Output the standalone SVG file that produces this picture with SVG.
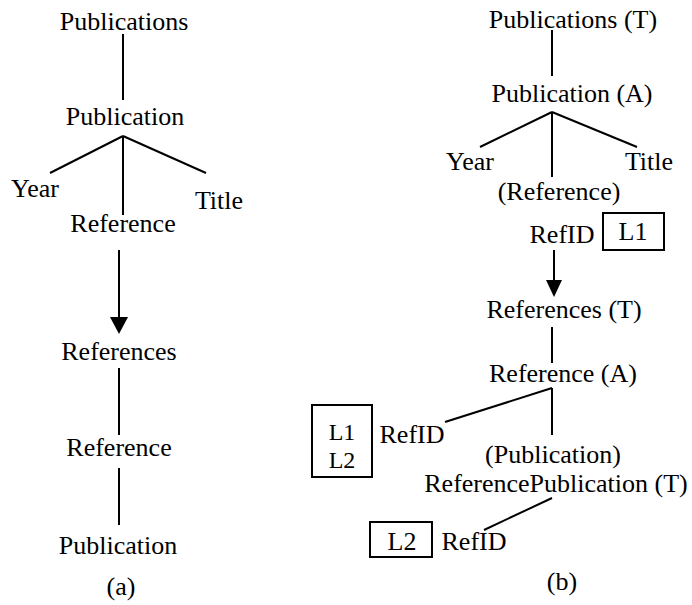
<svg xmlns="http://www.w3.org/2000/svg" width="692" height="605" viewBox="0 0 692 605">
  <style>
    text { font-family: "Times New Roman", "Liberation Serif", Times, "Nimbus Roman", "DejaVu Serif", serif; font-size: 26px; fill: #000; text-anchor: middle; }
    .edge { stroke: #000; stroke-width: 2; fill: none; }
    .box { stroke: #000; stroke-width: 2; fill: none; }
    .head { fill: #000; }
    .small { font-size: 24px; }
  </style>
  <rect width="692" height="605" fill="#fff"/>

  <!-- connectors -->
  <g id="connectors">
    <!-- (a) -->
    <line class="edge" x1="123" y1="34" x2="123" y2="100"/>
    <line class="edge" x1="123" y1="136" x2="50" y2="173"/>
    <line class="edge" x1="123" y1="136" x2="206" y2="173"/>
    <line class="edge" x1="123" y1="136" x2="123" y2="215"/>
    <line class="edge" x1="119" y1="250" x2="119" y2="320"/>
    <polygon class="head" points="110,317 128,317 119,334"/>
    <line class="edge" x1="119" y1="368" x2="119" y2="435"/>
    <line class="edge" x1="119" y1="468" x2="119" y2="525"/>
    <!-- (b) -->
    <line class="edge" x1="552" y1="30" x2="552" y2="76"/>
    <line class="edge" x1="552" y1="112" x2="480" y2="147"/>
    <line class="edge" x1="552" y1="112" x2="637" y2="147"/>
    <line class="edge" x1="552" y1="112" x2="552" y2="177"/>
    <line class="edge" x1="554" y1="250" x2="554" y2="283"/>
    <polygon class="head" points="546,280 562,280 554,297"/>
    <line class="edge" x1="552" y1="327" x2="552" y2="363"/>
    <line class="edge" x1="552" y1="388" x2="445" y2="422"/>
    <line class="edge" x1="552" y1="388" x2="552" y2="435"/>
    <line class="edge" x1="552" y1="498" x2="484" y2="530"/>
  </g>

  <!-- (a) nodes -->
  <g id="a-publications"><text x="124" y="30">Publications</text></g>
  <g id="a-publication"><text x="125" y="125">Publication</text></g>
  <g id="a-year"><text x="35" y="197">Year</text></g>
  <g id="a-title"><text x="219" y="209">Title</text></g>
  <g id="a-reference"><text x="123" y="232">Reference</text></g>
  <g id="a-references"><text x="119" y="360">References</text></g>
  <g id="a-reference2"><text x="119" y="456">Reference</text></g>
  <g id="a-publication2"><text x="118" y="554">Publication</text></g>
  <g id="a-caption"><text x="121" y="595">(a)</text></g>

  <!-- (b) nodes -->
  <g id="b-publications"><text x="573" y="28">Publications (T)</text></g>
  <g id="b-publication"><text x="572" y="102">Publication (A)</text></g>
  <g id="b-year"><text x="470" y="170">Year</text></g>
  <g id="b-title"><text x="649" y="170">Title</text></g>
  <g id="b-reference">
    <text x="559" y="200">(Reference)</text>
    <text x="562" y="243">RefID</text>
  </g>
  <g id="b-label-l1">
    <rect class="box" x="603" y="213" width="61" height="37"/>
    <text x="633" y="240">L1</text>
  </g>
  <g id="b-references"><text x="564" y="318">References (T)</text></g>
  <g id="b-reference-a"><text x="563" y="382">Reference (A)</text></g>
  <g id="b-refid1"><text x="412" y="443">RefID</text></g>
  <g id="b-label-l1l2">
    <rect class="box" x="312" y="405" width="60" height="72"/>
    <text class="small" x="342" y="440">L1</text>
    <text class="small" x="342" y="468">L2</text>
  </g>
  <g id="b-refpub">
    <text x="553" y="463">(Publication)</text>
    <text x="556" y="492">ReferencePublication (T)</text>
  </g>
  <g id="b-label-l2">
    <rect class="box" x="370" y="522" width="62" height="35"/>
    <text x="402" y="550">L2</text>
  </g>
  <g id="b-refid2"><text x="474" y="550">RefID</text></g>
  <g id="b-caption"><text x="562" y="590">(b)</text></g>
</svg>
